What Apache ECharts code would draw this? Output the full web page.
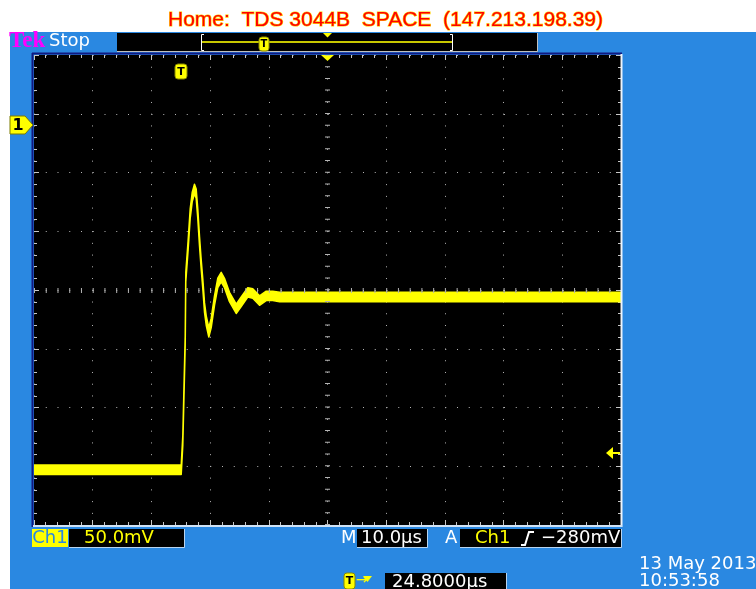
<!DOCTYPE html>
<html>
<head>
<meta charset="utf-8">
<script src="https://cdn.jsdelivr.net/npm/echarts@6/dist/echarts.min.js"></script>
<style>
html,body{margin:0;padding:0;background:#fff;}
#main{width:756px;height:589px;}
</style>
</head>
<body>
<div id="main"></div>
<script>
// 波形数据：时间(µs，屏幕左沿=0，触发点约25µs) / CH1 电压(mV)
const timeUs = [0, 25.08, 25.35, 25.76, 25.86, 26.24, 26.61, 26.95, 27.34, 27.63, 27.9, 28.19, 28.48, 28.76, 29.05, 29.34, 29.78,
  30.19, 30.75, 31.31, 31.89, 32.45, 33.3, 34.45, 35.3, 36.42, 37.27, 38.42, 39.56, 40.68, 41.82, 100];
const ch1mV = [-293, -293, -268, -183, -129, -103, -75, -61, -54, -58, -75, -98, -118, -135, -155, -166, -176,
  -168, -149, -134, -129, -134, -146, -156, -150, -142, -143, -149, -145, -145, -146, -146];
const noiseMv = 4;           // 噪声带半宽
const xRange = [0, 100];     // 10 格 × 10µs
const xStep = 10;
const yRange = [-340, 60];   // 8 格 × 50mV
const yStep = 50;

// 屏幕文字
const titleText = 'Home:  TDS 3044B  SPACE  (147.213.198.39)';
const chLabel = 'Ch1';
const voltsDiv = '50.0mV';
const timeDiv = '10.0µs';
const trigLevel = '−280mV';
const delayText = '24.8000µs';
const dateText = '13 May 2013';
const clockText = '10:53:58';

window.onload = function () {
  let chart = echarts.init(document.getElementById('main'));

  let trace = timeUs.map((t, i) => [t, ch1mV[i]]);

  const YEL = '#ffff00';
  const BLUE = '#2a88e1';
  const FONT = "18px 'DejaVu Sans'";

  function xAx(position, split) {
    return {
      type: 'value', position: position, min: xRange[0], max: xRange[1], interval: xStep,
      axisLabel: {show: false},
      axisLine: {show: false, onZero: false},
      axisTick: {show: true, inside: true, length: 5, lineStyle: {color: '#c8c8c8'}},
      minorTick: {show: true, splitNumber: 5, length: 3, lineStyle: {color: '#c8c8c8'}},
      splitLine: {show: split, lineStyle: {color: '#b4b4b4', width: 1, type: [1, 10.74]}}
    };
  }
  function yAx(position, split) {
    return {
      type: 'value', position: position, min: yRange[0], max: yRange[1], interval: yStep,
      axisLabel: {show: false},
      axisLine: {show: false, onZero: false},
      axisTick: {show: true, inside: true, length: 5, lineStyle: {color: '#c8c8c8'}},
      minorTick: {show: true, splitNumber: 5, length: 3, lineStyle: {color: '#c8c8c8'}},
      splitLine: {show: split, lineStyle: {color: '#b4b4b4', width: 1, type: [1, 10.75]}}
    };
  }

  function txt(x, y, s, color, font, align) {
    return {type: 'text', z: 8, style: {x: x, y: y, text: s, fill: color, font: font || FONT,
      textAlign: align || 'left', align: align || 'left', textVerticalAlign: 'middle', verticalAlign: 'middle'}};
  }
  function box(x, y, w, h) {
    return [
      {type: 'rect', z: 3, shape: {x: x, y: y, width: w, height: h}, style: {fill: '#000'}},
      {type: 'polyline', z: 4, shape: {points: [[x + w + 0.5, y], [x + w + 0.5, y + h + 0.5], [x, y + h + 0.5]]},
        style: {stroke: '#b8d4f0', lineWidth: 1, fill: null}}
    ];
  }
  function tMark(x, y, w, h, fs) {
    return [
      {type: 'rect', z: 6, shape: {x: x, y: y, width: w, height: h, r: 3}, style: {fill: YEL, stroke: '#8a8a00', lineWidth: 1}},
      txt(x + w / 2, y + h / 2 + 0.5, 'T', '#000', 'bold ' + fs + "px 'DejaVu Sans'", 'center')
    ];
  }

  let graphics = [
    // 蓝色面板与黑色屏幕
    {type: 'rect', z: -10, shape: {x: 10, y: 32, width: 746, height: 557}, style: {fill: BLUE}},
    {type: 'rect', z: -5, shape: {x: 34, y: 55, width: 587, height: 470}, style: {fill: '#000'}},
    {type: 'line', z: 4, shape: {x1: 32.5, y1: 53, x2: 32.5, y2: 527}, style: {stroke: '#101880', lineWidth: 2}},
    {type: 'line', z: 4, shape: {x1: 32, y1: 53.5, x2: 622, y2: 53.5}, style: {stroke: '#101880', lineWidth: 2}},
    {type: 'line', z: 4, shape: {x1: 621.5, y1: 54, x2: 621.5, y2: 527}, style: {stroke: '#eef4fb', lineWidth: 2}},
    {type: 'line', z: 4, shape: {x1: 33, y1: 526, x2: 622, y2: 526}, style: {stroke: '#cfe2f6', lineWidth: 2}},
    // 标题
    {type: 'text', z: 5, style: {x: 385.5, y: 20, text: titleText, fill: '#ff0000', stroke: '#ffd000', lineWidth: 1.2,
      strokeFirst: true, font: "21px 'Liberation Sans'", textAlign: 'center', align: 'center',
      textVerticalAlign: 'middle', verticalAlign: 'middle'}},
    txt(9, 41, 'Tek', '#ff00ff', "bold 23px 'Liberation Serif'"),
    txt(49, 41, 'Stop', '#fff'),
    // 记录长度条
    {type: 'rect', z: 3, shape: {x: 117, y: 33, width: 420, height: 18}, style: {fill: '#000'}},
    {type: 'polyline', z: 4, shape: {points: [[537.5, 33], [537.5, 51.5], [117, 51.5]]}, style: {stroke: '#c0c0c0', lineWidth: 1, fill: null}},
    {type: 'polyline', z: 4, shape: {points: [[204, 34.5], [201.5, 34.5], [201.5, 50.5], [204, 50.5]]}, style: {stroke: '#fff', lineWidth: 1, fill: null}},
    {type: 'polyline', z: 4, shape: {points: [[450, 34.5], [452.5, 34.5], [452.5, 50.5], [450, 50.5]]}, style: {stroke: '#fff', lineWidth: 1, fill: null}},
    {type: 'line', z: 4, shape: {x1: 202, y1: 42, x2: 452, y2: 42}, style: {stroke: '#c8c800', lineWidth: 2}},
    {type: 'polygon', z: 5, shape: {points: [[323, 33], [332, 33], [327.5, 37.5]]}, style: {fill: YEL}},
    ...tMark(259, 37, 10, 14, 10),
    // 触发位置
    {type: 'polygon', z: 5, shape: {points: [[321, 55], [334, 55], [327.5, 61]]}, style: {fill: YEL}},
    ...tMark(175, 64, 12, 15, 11),
    // 通道1 接地标记
    {type: 'polygon', z: 5, shape: {points: [[10, 116], [25, 116], [33, 125], [25, 134], [10, 134]]}, style: {fill: YEL, stroke: '#7a7a00', lineWidth: 1}},
    txt(18, 125.5, '1', '#000', "bold 16px 'DejaVu Sans'", 'center'),
    // 触发电平
    {type: 'polygon', z: 5, shape: {points: [[606, 453], [613, 447], [613, 459]]}, style: {fill: YEL}},
    {type: 'line', z: 5, shape: {x1: 612, y1: 453, x2: 620, y2: 453}, style: {stroke: YEL, lineWidth: 2}},
    // 底部读数
    {type: 'rect', z: 3, shape: {x: 32, y: 529, width: 36, height: 18}, style: {fill: YEL}},
    txt(50, 538.5, chLabel, BLUE, FONT, 'center'),
    ...box(69, 529, 115, 18),
    txt(84, 538.5, voltsDiv, YEL),
    txt(341, 538.5, 'M', '#fff'),
    ...box(357, 529, 70, 18),
    txt(361, 538.5, timeDiv, '#fff'),
    txt(445, 538.5, 'A', '#fff'),
    ...box(460, 529, 161, 18),
    txt(475, 538.5, chLabel, YEL),
    {type: 'polyline', z: 5, shape: {points: [[521, 545], [525, 545], [529, 532], [534, 532]]}, style: {stroke: '#fff', lineWidth: 2, fill: null}},
    txt(541, 538.5, trigLevel, '#fff'),
    ...tMark(344, 573, 11, 16, 11),
    txt(356, 580.5, '→', YEL, "14px 'DejaVu Sans'"),
    {type: 'polygon', z: 5, shape: {points: [[363, 576], [372, 576], [367.5, 582]]}, style: {fill: YEL}},
    ...box(385, 573, 121, 18),
    txt(392, 582, delayText, '#fff'),
    txt(639, 564.5, dateText, '#fff'),
    txt(639, 581, clockText, '#fff')
  ];

  // 带噪声宽度的波形：上下包络组成一个多边形，坐标全部经 api.coord 换算
  function renderTrace(params, api) {
    if (params.dataIndex !== 0) return null;
    let upper = [], lower = [];
    for (let i = 0; i < timeUs.length; i++) {
      upper.push(api.coord([timeUs[i], ch1mV[i] + noiseMv]));
      lower.unshift(api.coord([timeUs[i], ch1mV[i] - noiseMv]));
    }
    return {
      type: 'polygon',
      shape: {points: upper.concat(lower)},
      style: {fill: YEL, stroke: YEL, lineWidth: 1.5, lineJoin: 'round'}
    };
  }

  let option = {
    animation: false,
    backgroundColor: '#fff',
    grid: {left: 34, top: 55, width: 587, height: 470, show: false},
    xAxis: [xAx('bottom', true), xAx('top', false)],
    yAxis: [yAx('left', true), yAx('right', false)],
    graphic: graphics,
    series: [
      {
        type: 'line', data: [], symbol: 'none', silent: true,
        markLine: {
          silent: true, symbol: ['none', 'none'], label: {show: false}, animation: false,
          lineStyle: {color: '#b4b4b4', width: 5, type: [1, 10.74]},
          data: [{xAxis: (xRange[0] + xRange[1]) / 2}, {yAxis: (yRange[0] + yRange[1]) / 2}]
        }
      },
      {
        type: 'custom', name: 'CH1', data: trace, z: 3,
        renderItem: renderTrace,
        encode: {x: 0, y: 1},
        clip: true
      }
    ]
  };
  chart.setOption(option);
};
</script>
</body>
</html>
